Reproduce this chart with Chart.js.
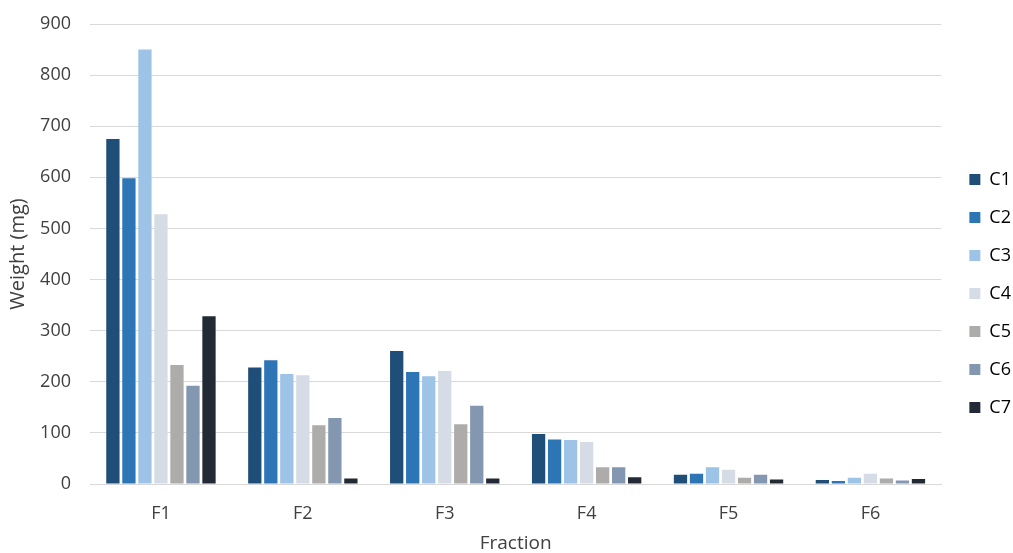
<!DOCTYPE html>
<html>
<head>
<meta charset="utf-8">
<script src="https://cdn.jsdelivr.net/npm/chart.js@4/dist/chart.umd.min.js"></script>
<style>
  html, body { margin: 0; padding: 0; background: #ffffff; }
  #wrap { width: 1013px; height: 553px; }
</style>
</head>
<body>
<div id="wrap"><canvas id="chart" width="1013" height="553"></canvas></div>
<script>
// Fractions on the category axis
const fractions = ['F1', 'F2', 'F3', 'F4', 'F5', 'F6'];
// Weight (mg) per fraction for each sample
const c1 = [675, 228, 260, 98, 18, 8];
const c2 = [598, 242, 219, 87, 20, 6];
const c3 = [850, 215, 211, 86, 33, 12];
const c4 = [528, 213, 221, 82, 28, 20];
const c5 = [233, 115, 117, 33, 12, 11];
const c6 = [192, 129, 153, 33, 18, 7];
const c7 = [328, 11, 11, 13, 9, 10];
const seriesNames = ['C1', 'C2', 'C3', 'C4', 'C5', 'C6', 'C7'];
const yTicks = [0, 100, 200, 300, 400, 500, 600, 700, 800, 900];

const seriesValues = [c1, c2, c3, c4, c5, c6, c7];
const seriesColors = ['#1F4E79', '#2E75B6', '#9DC3E6', '#D6DCE5', '#AEABAB', '#8497B0', '#222A35'];

const FONT = 'Open Sans';
const TEXT = '#404040';

// nudges the legend block so its keys sit right of the plot
const legendShift = {
  id: 'legendShift',
  afterLayout(chart) {
    const lg = chart.legend;
    if (!lg) return;
    const dx = 8, dy = 5;
    lg.left += dx; lg.right += dx;
    lg.top += dy; lg.bottom += dy;
  }
};

new Chart(document.getElementById('chart'), {
  type: 'bar',
  data: {
    labels: fractions,
    datasets: seriesNames.map((name, i) => ({
      label: name,
      data: seriesValues[i],
      backgroundColor: seriesColors[i],
      borderWidth: 0,
      barPercentage: 0.83,
      categoryPercentage: 0.79
    }))
  },
  options: {
    responsive: false,
    animation: false,
    layout: { padding: { top: 24, right: 0, bottom: 0, left: 0 } },
    plugins: {
      tooltip: { enabled: false },
      legend: {
        position: 'right',
        align: 'center',
        labels: {
          boxWidth: 11,
          boxHeight: 11,
          padding: 20,
          color: '#000000',
          font: { family: FONT, size: 18 }
        }
      }
    },
    scales: {
      x: {
        grid: { display: false },
        border: { display: true, color: '#D9D9D9', width: 1 },
        ticks: { color: TEXT, padding: 11, font: { family: FONT, size: 18 } },
        title: {
          display: true,
          text: 'Fraction',
          color: TEXT,
          padding: 0,
          font: { family: FONT, size: 19, lineHeight: 1 }
        },
        afterFit(scale) { scale.height = 69; }
      },
      y: {
        min: 0,
        max: 900,
        afterBuildTicks(scale) { scale.ticks = yTicks.map(v => ({ value: v })); },
        grid: { color: '#D9D9D9', lineWidth: 1, drawTicks: false },
        border: { display: false },
        ticks: { color: TEXT, padding: 19, font: { family: FONT, size: 18 } },
        title: {
          display: true,
          text: 'Weight (mg)',
          color: TEXT,
          padding: { top: 6, bottom: 0 },
          font: { family: FONT, size: 20 }
        },
        afterFit(scale) {
          scale.width = 90;
          scale.paddingTop = 0;
          scale.paddingBottom = 0;
        }
      }
    }
  },
  plugins: [legendShift]
});
</script>
</body>
</html>
